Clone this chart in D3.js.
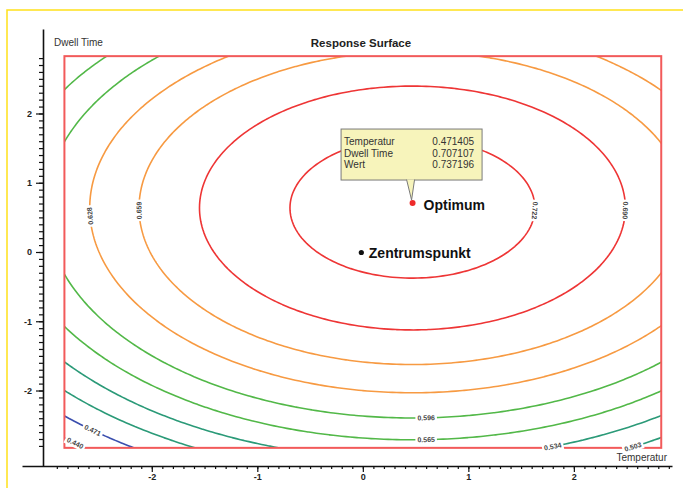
<!DOCTYPE html>
<html>
<head>
<meta charset="utf-8">
<script src="https://cdn.jsdelivr.net/npm/d3@7"></script>
<style>
  html, body { margin: 0; padding: 0; background: #fff; }
  svg { display: block; font-family: "Liberation Sans", Arial, sans-serif; }
</style>
</head>
<body>
<svg id="chart" width="683" height="488"></svg>
<script>
// Second-order response model: Wert = b0 + b1*T + b2*D + b11*T^2 + b22*D^2 + b12*T*D
const modelTerms = ["b0", "b1", "b2", "b11", "b22", "b12"];
const modelCoefficients = [0.7290, 0.01104, 0.0196, -0.01174, -0.01543, 0];
const factorNames = ["Temperatur", "Dwell Time"];
const designLimits = [-2.828, 2.828];

// contour levels and their line colours
const contourLevels = [0.440, 0.471, 0.503, 0.534, 0.565, 0.596, 0.628, 0.659, 0.690, 0.722];
const contourColors = ["#3b4fae", "#3b4fae", "#2b9a78", "#2b9a78", "#52b848",
                       "#52b848", "#f79a42", "#f79a42", "#ee3535", "#ee3535"];

// inline contour labels: level and the (Temperatur, Dwell Time) spot on the line
const labelLevels  = [0.628, 0.659, 0.722, 0.690, 0.596, 0.565, 0.534, 0.503, 0.471, 0.440];
const labelAtT     = [-2.60, -2.10, 1.63, 2.48, 0.60, 0.60, 1.80, 2.56, -2.54, -2.72];
const labelAtD     = [0.53, 0.61, 0.61, 0.61, -2.38, -2.70, -2.81, -2.80, -2.53, -2.74];

const xTickValues = [-2, -1, 0, 1, 2];
const yTickValues = [-2, -1, 0, 1, 2];

const optimumPoint = [0.471405, 0.707107, 0.737196];
const centerPoint = [0, 0];
const tooltipRows = ["Temperatur", "Dwell Time", "Wert"];
const pointNames = ["Optimum", "Zentrumspunkt"];

const svg = d3.select("#chart");
const W = 683, H = 488;

const x = d3.scaleLinear().domain([-3.23, 2.93]).range([22, 672]);
const y = d3.scaleLinear().domain([-3.09, 3.22]).range([466, 29]);

function response(t, d) {
  const [b0, b1, b2, b11, b22, b12] = modelCoefficients;
  return b0 + b1 * t + b2 * d + b11 * t * t + b22 * d * d + b12 * t * d;
}

// page background and outer frame
svg.append("rect").attr("width", W).attr("height", H).attr("fill", "#fff");
svg.append("rect").attr("x", 7).attr("y", 10).attr("width", 720).attr("height", 520)
  .attr("fill", "none").attr("stroke", "#ffe11a").attr("stroke-width", 1.5);

// ---- axes ----
const minorX = d3.range(-29, 30).map(v => v / 10);
const minorY = d3.range(-28, 29).map(v => v / 10);

const gx = svg.append("g").attr("transform", `translate(0,${y(-3.09)})`);
gx.call(d3.axisBottom(x).tickValues(minorX).tickSize(3).tickSizeOuter(0).tickFormat(""));
gx.append("g").call(d3.axisBottom(x).tickValues(xTickValues).tickSize(6).tickSizeOuter(0)
  .tickPadding(2).tickFormat(d => String(d)))
  .call(g => g.select(".domain").remove());

const gy = svg.append("g").attr("transform", `translate(${x(-2.83) - 21.6 + 0},0)`);
// y axis sits at x = 43
gy.attr("transform", "translate(43,0)");
gy.call(d3.axisLeft(y).tickValues(minorY).tickSize(4).tickSizeOuter(0).tickFormat(""));
gy.append("g").call(d3.axisLeft(y).tickValues(yTickValues).tickSize(7).tickSizeOuter(0)
  .tickPadding(4).tickFormat(d => String(d)))
  .call(g => g.select(".domain").remove());

svg.selectAll(".domain").attr("stroke", "#111").attr("stroke-width", 1.6);
svg.selectAll(".tick line").attr("stroke", "#111").attr("stroke-width", 1.2);
svg.selectAll(".tick text").attr("fill", "#222").attr("font-size", 9).attr("font-weight", "bold")
  .attr("font-family", "Liberation Sans, Arial, sans-serif");

svg.append("text").attr("x", 54).attr("y", 45.5).attr("font-size", 10).attr("fill", "#333")
  .text(factorNames[1]);
svg.append("text").attr("x", 667).attr("y", 461).attr("text-anchor", "end")
  .attr("font-size", 10).attr("fill", "#333").text(factorNames[0]);
svg.append("text").attr("x", 361).attr("y", 47).attr("text-anchor", "middle")
  .attr("font-size", 11.5).attr("font-weight", "bold").attr("fill", "#222")
  .text("Response Surface");

// ---- contours ----
const gridMin = -3.2, gridMax = 3.2, n = 161;
const step = (gridMax - gridMin) / (n - 1);
const grid = new Float64Array(n * n);
for (let j = 0; j < n; j++) {
  for (let i = 0; i < n; i++) {
    grid[j * n + i] = response(gridMin + i * step, gridMin + j * step);
  }
}
const toPx = c => [x(gridMin + (c[0] - 0.5) * step), y(gridMin + (c[1] - 0.5) * step)];
const contours = d3.contours().size([n, n]).thresholds(contourLevels)(grid);
const path = d3.geoPath(d3.geoTransform({
  point(px, py) { const p = toPx([px, py]); this.stream.point(p[0], p[1]); }
}));

const rx0 = x(designLimits[0]), rx1 = x(designLimits[1]);
const ry0 = y(designLimits[1]), ry1 = y(designLimits[0]);

svg.append("clipPath").attr("id", "plotClip").append("rect")
  .attr("x", rx0).attr("y", ry0).attr("width", rx1 - rx0).attr("height", ry1 - ry0);

svg.append("g").attr("clip-path", "url(#plotClip)")
  .selectAll("path").data(contours).join("path")
  .attr("d", path)
  .attr("fill", "none")
  .attr("stroke", (d, i) => contourColors[i])
  .attr("stroke-width", 1.6)
  .attr("stroke-linejoin", "round");

// design region border
svg.append("rect").attr("x", rx0).attr("y", ry0).attr("width", rx1 - rx0).attr("height", ry1 - ry0)
  .attr("fill", "none").attr("stroke", "#f25a5a").attr("stroke-width", 2);

// ---- contour labels ----
const cxPx = x(optimumPoint[0]);
const labelLayer = svg.append("g");
labelLevels.forEach((lvl, k) => {
  const ci = contourLevels.indexOf(lvl);
  const target = [x(labelAtT[k]), y(labelAtD[k])];
  let best = null, bestD = Infinity;
  contours[ci].coordinates.forEach(poly => poly.forEach(ring => {
    const pts = ring.map(toPx);
    for (let m = 1; m < pts.length - 1; m++) {
      const dd = (pts[m][0] - target[0]) ** 2 + (pts[m][1] - target[1]) ** 2;
      if (dd < bestD) { bestD = dd; best = [pts[m], pts[m - 1], pts[m + 1]]; }
    }
  }));
  if (!best) return;
  const [p, a, b] = best;
  let ang = Math.atan2(b[1] - a[1], b[0] - a[0]) * 180 / Math.PI;
  if (ang > 90) ang -= 180;
  if (ang <= -90) ang += 180;
  if (p[0] < cxPx && ang > 60) ang -= 180;
  if (p[0] > cxPx && ang < -60) ang += 180;
  const g = labelLayer.append("g").attr("transform", `translate(${p[0]},${p[1]}) rotate(${ang})`);
  const bg = g.append("rect").attr("fill", "#fff");
  const t = g.append("text").attr("text-anchor", "middle").attr("dy", "0.35em")
    .attr("font-size", 7).attr("font-weight", "bold").attr("fill", "#444")
    .text(lvl.toFixed(3));
  const w = t.node().getComputedTextLength() + 4;
  bg.attr("x", -w / 2).attr("y", -4.5).attr("width", w).attr("height", 9);
});

// ---- marked points ----
const ox = x(optimumPoint[0]), oy = y(optimumPoint[1]);
svg.append("circle").attr("cx", x(centerPoint[0]) - 1.5).attr("cy", y(centerPoint[1]) + 0.5)
  .attr("r", 2.6).attr("fill", "#111");
svg.append("text").attr("x", x(centerPoint[0]) + 6).attr("y", y(centerPoint[1]) + 6)
  .attr("font-size", 14).attr("font-weight", "bold").attr("fill", "#111").text(pointNames[1]);

// tooltip for the optimum
const tipW = 141, tipH = 51;
const tipX = ox - 71.5, tipY = oy - 74;
const tip = svg.append("g");
tip.append("rect").attr("x", tipX).attr("y", tipY).attr("width", tipW).attr("height", tipH)
  .attr("fill", "#f7f4bb").attr("stroke", "#7a7a7a").attr("stroke-width", 1);
tip.append("path")
  .attr("d", `M${ox - 6},${tipY + tipH - 0.5} L${ox - 1},${oy - 3} L${ox + 2},${tipY + tipH - 0.5}`)
  .attr("fill", "#f7f4bb").attr("stroke", "#7a7a7a").attr("stroke-width", 1);
tooltipRows.forEach((name, r) => {
  tip.append("text").attr("x", tipX + 3).attr("y", tipY + 16 + r * 11.7)
    .attr("font-size", 10).attr("fill", "#333").text(name);
  tip.append("text").attr("x", tipX + tipW - 8).attr("y", tipY + 16 + r * 11.7)
    .attr("text-anchor", "end").attr("font-size", 10).attr("fill", "#333")
    .text(optimumPoint[r].toFixed(6));
});

svg.append("circle").attr("cx", ox).attr("cy", oy).attr("r", 3).attr("fill", "#ee2a2a");
svg.append("text").attr("x", ox + 11).attr("y", oy + 7)
  .attr("font-size", 14).attr("font-weight", "bold").attr("fill", "#111").text(pointNames[0]);
</script>
</body>
</html>
